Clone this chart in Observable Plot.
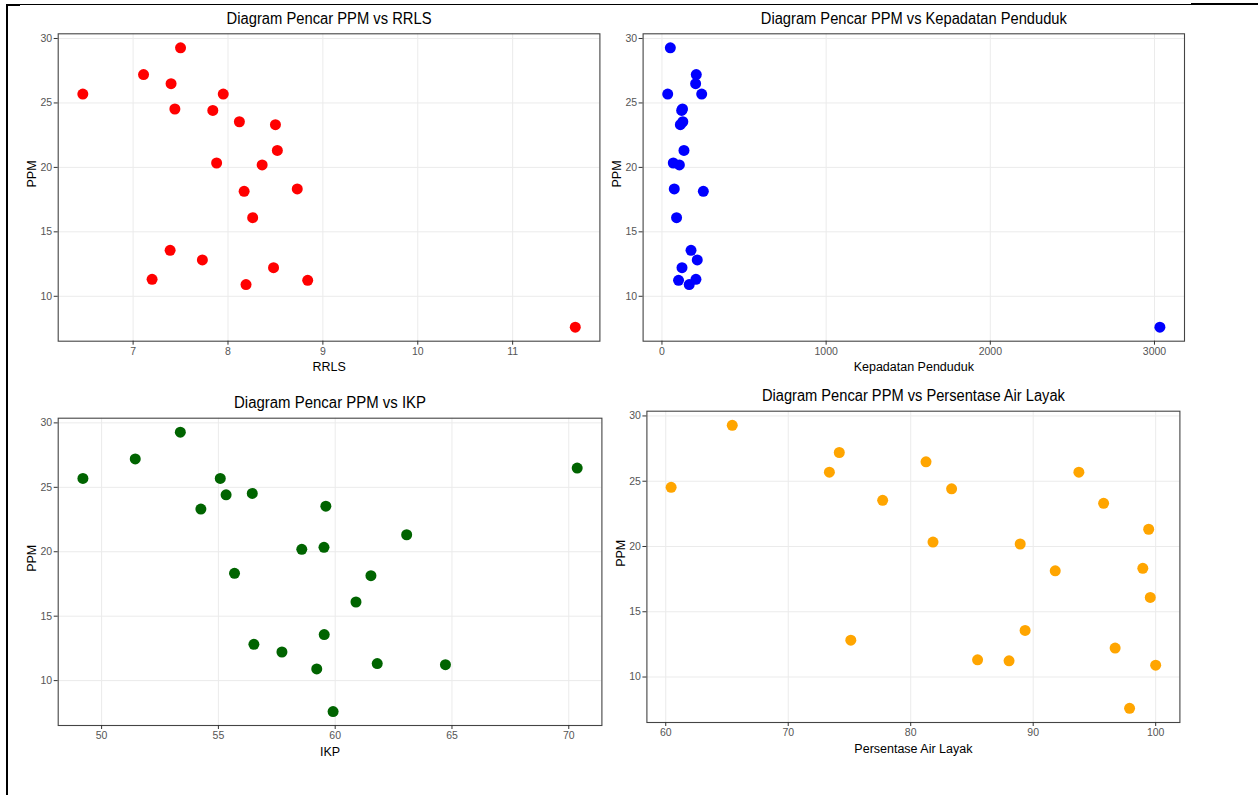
<!DOCTYPE html>
<html>
<head>
<meta charset="utf-8">
<script src="https://cdn.jsdelivr.net/npm/d3@7"></script>
<script src="https://cdn.jsdelivr.net/npm/@observablehq/plot@0.6"></script>
<style>
  html, body { margin: 0; padding: 0; background: #fff; }
  #root { position: relative; width: 1258px; height: 795px; overflow: hidden; background: #fff; }
  .panel { position: absolute; }
  .rule { position: absolute; background: #000; z-index: 10; }
</style>
</head>
<body>
<div id="root">
  <div class="rule" style="left:6px;top:4px;width:2px;height:791px"></div>
  <div class="rule" style="left:6px;top:4px;width:1185px;height:1px"></div>
  <div class="rule" style="left:6px;top:4px;width:14px;height:2px"></div>
  <div class="rule" style="left:1191px;top:3px;width:67px;height:2px"></div>
</div>
<script>
// ---- data (one entry per region) ----
const ppm       = [29.28, 27.2, 26.49, 25.69, 25.69, 24.53, 24.42, 23.54, 23.31, 21.32, 20.34, 20.19, 18.33, 18.14, 16.1, 13.57, 12.82, 12.22, 11.32, 11.24, 10.91, 7.6];
const rrls      = [7.50, 7.11, 7.40, 6.47, 7.95, 7.44, 7.84, 8.12, 8.50, 8.52, 7.88, 8.36, 8.73, 8.17, 8.26, 7.39, 7.73, 8.48, 7.20, 8.84, 8.19, 11.66];
const kepadatan = [51, 209, 205, 35, 242, 125, 120, 127, 112, 134, 69, 106, 75, 252, 89, 177, 215, 122, 207, 101, 166, 3033];
const ikp       = [53.37, 51.44, 70.36, 49.20, 55.08, 56.45, 55.33, 59.60, 54.25, 63.06, 59.52, 58.57, 55.69, 61.53, 60.89, 59.53, 56.52, 57.72, 61.80, 64.72, 59.21, 59.91];
const airLayak  = [65.43, 74.17, 81.25, 73.36, 93.73, 60.44, 83.34, 77.71, 95.75, 99.43, 81.82, 88.94, 98.95, 91.80, 99.56, 89.34, 75.11, 96.69, 85.46, 88.03, 100.0, 97.87];

const yTicks = [10, 15, 20, 25, 30];
const ticksRRLS = [7, 8, 9, 10, 11];
const ticksKepadatan = [0, 1000, 2000, 3000];
const ticksIKP = [50, 55, 60, 65, 70];
const ticksAir = [60, 70, 80, 90, 100];

const titles = [
  "Diagram Pencar PPM vs RRLS",
  "Diagram Pencar PPM vs Kepadatan Penduduk",
  "Diagram Pencar PPM vs IKP",
  "Diagram Pencar PPM vs Persentase Air Layak"
];
const xLabels = ["RRLS", "Kepadatan Penduduk", "IKP", "Persentase Air Layak"];
const yLabel = "PPM";

// ---- layout / styling ----
const panels = [
  {xs: rrls, ticks: ticksRRLS, color: "#ff0000", left: 0, top: 0, width: 610, height: 380,
   m: {l: 57.7, r: 10.6, t: 33.3, b: 39.3}, titleW: 205},
  {xs: kepadatan, ticks: ticksKepadatan, color: "#0000ff", left: 610, top: 0, width: 648, height: 380,
   m: {l: 32.6, r: 74, t: 33.3, b: 39.3}, titleW: 306},
  {xs: ikp, ticks: ticksIKP, color: "#006400", left: 0, top: 380, width: 610, height: 415,
   m: {l: 57.7, r: 8.6, t: 37.7, b: 70}, titleW: 192},
  {xs: airLayak, ticks: ticksAir, color: "#ffa500", left: 610, top: 380, width: 648, height: 415,
   m: {l: 36.4, r: 78.6, t: 30.7, b: 73}, titleW: 303}
];

function expand(values) {
  const [a, b] = d3.extent(values);
  const pad = (b - a) * 0.05;
  return [a - pad, b + pad];
}

const font = "'Liberation Sans', Arial, Helvetica, sans-serif";
const root = document.getElementById("root");

panels.forEach((p, i) => {
  const data = ppm.map((v, k) => ({x: p.xs[k], y: v}));
  const chart = Plot.plot({
    width: p.width,
    height: p.height,
    marginLeft: p.m.l,
    marginRight: p.m.r,
    marginTop: p.m.t,
    marginBottom: p.m.b,
    style: {fontFamily: font, background: "transparent", overflow: "visible"},
    x: {domain: expand(p.xs)},
    y: {domain: expand(ppm)},
    marks: [
      Plot.gridX(p.ticks, {stroke: "#ebebeb", strokeOpacity: 1, strokeWidth: 1}),
      Plot.gridY(yTicks, {stroke: "#ebebeb", strokeOpacity: 1, strokeWidth: 1}),
      Plot.dot(data, {x: "x", y: "y", r: 5.5, fill: p.color, stroke: "none"}),
      Plot.frame({stroke: "#444", strokeWidth: 1.1}),
      Plot.axisX(p.ticks, {tickSize: 4, tickPadding: 2, fontSize: 10.5, stroke: "#333", fill: "#555",
                           tickFormat: d => String(d), label: null}),
      Plot.axisY(yTicks, {tickSize: 4, tickPadding: 2, fontSize: 10.5, stroke: "#333", fill: "#555",
                          tickFormat: d => String(d), label: null}),
      Plot.text([titles[i]], {text: d => d, frameAnchor: "top", lineAnchor: "middle", dy: -15,
                              fontSize: 16, fill: "#000", className: "ptitle"}),
      Plot.text([xLabels[i]], {text: d => d, frameAnchor: "bottom", lineAnchor: "middle", dy: 26,
                               fontSize: 12.5, fill: "#000"}),
      Plot.text([yLabel], {text: d => d, frameAnchor: "left", lineAnchor: "middle", dx: -26, rotate: -90,
                           fontSize: 12.5, fill: "#000"})
    ]
  });
  // the reference's titles are horizontally condensed: fit each title to its measured width
  chart.querySelectorAll(".ptitle text").forEach(t => {
    t.setAttribute("textLength", p.titleW);
    t.setAttribute("lengthAdjust", "spacingAndGlyphs");
  });
  const div = document.createElement("div");
  div.className = "panel";
  div.style.left = p.left + "px";
  div.style.top = p.top + "px";
  div.appendChild(chart);
  root.appendChild(div);
});
</script>
</body>
</html>
